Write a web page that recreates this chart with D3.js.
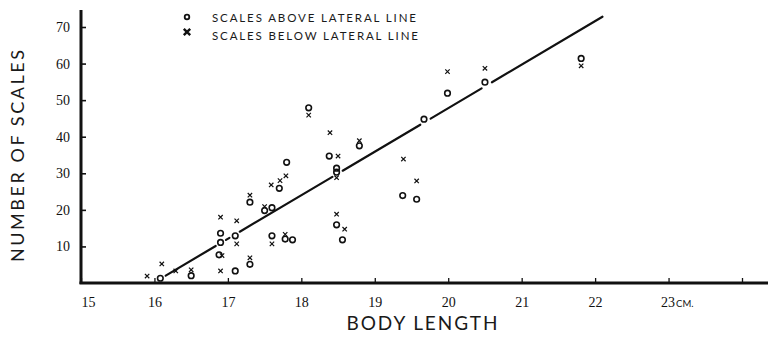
<!DOCTYPE html>
<html>
<head>
<meta charset="utf-8">
<script src="https://cdn.jsdelivr.net/npm/d3@7"></script>
<style>
  html, body { margin: 0; padding: 0; background: #fff; }
  svg { display: block; }
</style>
</head>
<body>
<svg id="chart" width="768" height="347"></svg>
<script>
// Body length (cm) vs number of scales
const xTickValues = [15, 16, 17, 18, 19, 20, 21, 22, 23, 24];
const xTickLabels = ["15", "16", "17", "18", "19", "20", "21", "22", "23", ""];
const yTickValues = [10, 20, 30, 40, 50, 60, 70];

const seriesNames = ["SCALES ABOVE LATERAL LINE", "SCALES BELOW LATERAL LINE"];

// scales above the lateral line (circles)
const aboveLength = [16.08, 16.5, 16.9, 16.9, 16.88, 17.1, 17.1, 17.3, 17.3, 17.5, 17.6, 17.6, 17.78, 17.88, 17.7, 17.8,
  18.1, 18.79, 18.38, 18.48, 18.48, 18.48, 18.56, 19.38, 19.57, 19.67, 19.99, 20.5, 21.81];
const aboveScales = [1.3, 2.0, 13.6, 11.1, 7.7, 12.9, 3.3, 22.1, 5.1, 19.8, 20.6, 12.9, 12.0, 11.8, 25.9, 33.0,
  47.9, 37.5, 34.7, 31.4, 30.3, 15.9, 11.8, 23.9, 22.9, 44.8, 51.9, 54.9, 61.4];

// scales below the lateral line (crosses)
const belowLength = [15.9, 16.1, 16.29, 16.5, 16.9, 16.92, 16.9, 17.12, 17.12, 17.3, 17.3, 17.5, 17.6, 17.78, 17.59, 17.71, 17.79,
  18.1, 18.39, 18.79, 18.5, 18.48, 18.48, 18.59, 19.39, 19.57, 19.99, 20.5, 21.81];
const belowScales = [1.9, 5.2, 3.3, 3.6, 18.0, 7.5, 3.3, 17.0, 10.7, 6.9, 24.0, 20.9, 10.7, 13.3, 26.8, 28.0, 29.3,
  45.9, 41.1, 38.9, 34.7, 28.8, 18.8, 14.7, 33.9, 27.9, 57.8, 58.7, 59.4];

// fitted trend line end points
const fitLength = [16.08, 22.1];
const fitScales = [1.15, 72.8];

const svg = d3.select("#chart");
const x = d3.scaleLinear().domain([15, 24]).range([81, 742]);
const y = d3.scaleLinear().domain([0, 70]).range([283, 27]);

const sansFont = "Lato, 'Open Sans', 'DejaVu Sans', sans-serif";
const serifFont = "'Liberation Serif', 'DejaVu Serif', serif";

// axes
const yAxis = d3.axisLeft(y).tickValues(yTickValues).tickSize(-5).tickPadding(11).tickFormat(d3.format("d"));
const gy = svg.append("g").attr("transform", `translate(${x(15)},0)`).call(yAxis);
gy.select(".domain").remove();
gy.selectAll(".tick line").attr("stroke", "#111").attr("stroke-width", 1.6);
gy.selectAll(".tick text").attr("font-family", serifFont).attr("font-size", 14).attr("fill", "#111");

const xAxis = d3.axisBottom(x).tickValues(xTickValues).tickSize(-5).tickPadding(14)
  .tickFormat((d, i) => xTickLabels[i]);
const gx = svg.append("g").attr("transform", `translate(0,${y(0)})`).call(xAxis);
gx.select(".domain").remove();
gx.selectAll(".tick line").attr("stroke", "#111").attr("stroke-width", 1.3);
gx.selectAll(".tick text").attr("font-family", serifFont).attr("font-size", 14).attr("fill", "#111");
gx.selectAll(".tick").filter(d => d === 15).select("text").attr("dx", 7);
// unit suffix after the 23 label
gx.selectAll(".tick").filter(d => d === 23).select("text")
  .attr("text-anchor", "start").attr("dx", -8)
  .append("tspan").text("CM.").attr("font-family", sansFont).attr("font-size", 9.5).attr("dx", 1);

// axis lines
svg.append("line").attr("x1", x(15)).attr("x2", x(15)).attr("y1", 10).attr("y2", y(0) + 1)
  .attr("stroke", "#111").attr("stroke-width", 3);
svg.append("line").attr("x1", x(15) - 1.5).attr("x2", 768).attr("y1", y(0)).attr("y2", y(0))
  .attr("stroke", "#111").attr("stroke-width", 3);

// trend line, broken where it passes through a circle
const p0 = [x(fitLength[0]), y(fitScales[0])];
const p1 = [x(fitLength[1]), y(fitScales[1])];
const len = Math.hypot(p1[0] - p0[0], p1[1] - p0[1]);
const ux = (p1[0] - p0[0]) / len, uy = (p1[1] - p0[1]) / len;
const cuts = [];
aboveLength.forEach((v, i) => {
  const px = x(v) - p0[0], py = y(aboveScales[i]) - p0[1];
  const t = px * ux + py * uy;
  const dist = Math.abs(px * uy - py * ux);
  if (dist < 4 && t > -6 && t < len + 6) cuts.push([t - 6, t + 6]);
});
cuts.sort((a, b) => a[0] - b[0]);
let segs = [], cur = 0;
cuts.forEach(c => { if (c[0] > cur) segs.push([cur, c[0]]); cur = Math.max(cur, c[1]); });
if (cur < len) segs.push([cur, len]);
svg.append("g").selectAll("line").data(segs).join("line")
  .attr("x1", s => p0[0] + ux * s[0]).attr("y1", s => p0[1] + uy * s[0])
  .attr("x2", s => p0[0] + ux * s[1]).attr("y2", s => p0[1] + uy * s[1])
  .attr("stroke", "#111").attr("stroke-width", 2.2).attr("stroke-linecap", "round");

// circles
svg.append("g").selectAll("circle").data(aboveLength).join("circle")
  .attr("cx", d => x(d)).attr("cy", (d, i) => y(aboveScales[i])).attr("r", 2.8)
  .attr("fill", "none").attr("stroke", "#111").attr("stroke-width", 1.6);

// crosses
const cross = s => `M${-s},${-s}L${s},${s}M${s},${-s}L${-s},${s}`;
svg.append("g").selectAll("path").data(belowLength).join("path")
  .attr("transform", (d, i) => `translate(${x(d)},${y(belowScales[i])})`)
  .attr("d", cross(2.2)).attr("stroke", "#111").attr("stroke-width", 1.2).attr("fill", "none");

// legend
const legend = svg.append("g");
legend.append("circle").attr("cx", 187).attr("cy", 17).attr("r", 2.3)
  .attr("fill", "none").attr("stroke", "#111").attr("stroke-width", 1.8);
legend.append("path").attr("transform", "translate(187,32)").attr("d", cross(3.2))
  .attr("stroke", "#111").attr("stroke-width", 2.4);
legend.selectAll("text").data(seriesNames).join("text")
  .attr("x", 212).attr("y", (d, i) => 22 + i * 18)
  .attr("font-family", sansFont).attr("font-size", 11.5).attr("font-weight", 400)
  .attr("textLength", (d, i) => i === 0 ? 204 : 206).attr("lengthAdjust", "spacing")
  .attr("fill", "#1a1a1a").text(d => d);

// axis titles
svg.append("text").attr("transform", "translate(24,156) rotate(-90)")
  .attr("text-anchor", "middle").attr("font-family", sansFont).attr("font-size", 18).attr("font-weight", 400)
  .attr("textLength", 212).attr("lengthAdjust", "spacing").attr("fill", "#1a1a1a").text("NUMBER OF SCALES");
svg.append("text").attr("x", 422).attr("y", 330)
  .attr("text-anchor", "middle").attr("font-family", sansFont).attr("font-size", 19).attr("font-weight", 400)
  .attr("textLength", 151).attr("lengthAdjust", "spacing").attr("fill", "#1a1a1a").text("BODY LENGTH");
</script>
</body>
</html>
